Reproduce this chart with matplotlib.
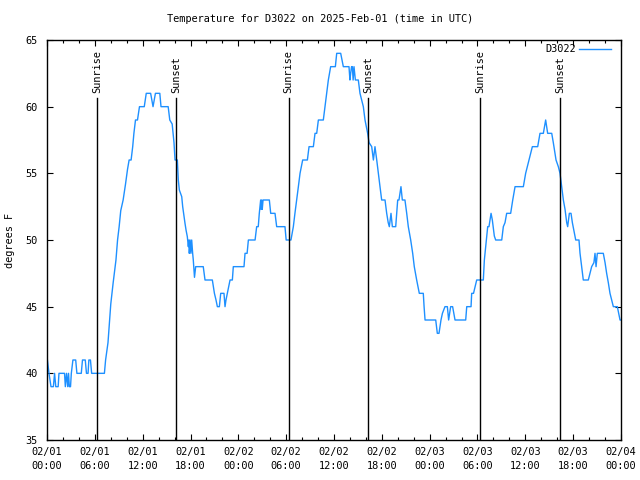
import matplotlib
matplotlib.use("Agg")
import matplotlib.pyplot as plt
from matplotlib.ticker import MultipleLocator

# hours since 02/01 00:00 UTC and temperature (deg F)
hours = [
    0.05, 0.25, 0.5, 0.8, 0.95, 1.1, 1.4, 1.5, 2.2, 2.3, 2.45, 2.6, 2.7, 2.8, 2.95,
    3.05, 3.25, 3.6, 3.75, 4.3, 4.45, 4.8, 4.95, 5.15, 5.25, 5.45, 5.6, 7.2,
    7.35, 7.65, 8.0, 8.3, 8.65, 8.85, 9.05, 9.25, 9.55, 9.85, 10.1, 10.3, 10.55,
    10.75, 10.9, 11.1, 11.35, 11.6, 12.2, 12.45, 13.0, 13.3, 13.6, 14.15, 14.3, 15.2,
    15.4, 15.7, 15.93, 16.06, 16.35, 16.47, 16.6, 16.9, 17.02, 17.19, 17.31, 17.44,
    17.6, 17.73, 17.8, 17.85, 17.95, 18.05, 18.15, 18.27, 18.35, 18.5, 18.56, 18.65,
    19.6, 19.82, 20.74, 20.87, 21.0, 21.2, 21.37, 21.62, 21.79, 22.2, 22.33, 22.45,
    22.62, 22.8, 22.96, 23.25, 23.37, 24.71, 24.84, 25.1, 25.26, 26.1, 26.3, 26.5,
    26.63, 26.8, 26.87, 26.93, 27.0, 27.1, 27.89, 28.06, 28.6, 28.81, 29.85, 30.0,
    30.6, 30.9, 31.1, 31.32, 31.53, 31.74, 32.07, 32.66, 32.87, 33.41, 33.62, 33.83,
    34.04, 34.66, 34.87, 35.08, 35.29, 35.58, 36.17, 36.34, 36.84, 37.17, 37.88, 38.0,
    38.09, 38.2, 38.3, 38.4, 38.51, 38.68, 39.05, 39.26, 39.68, 39.89, 40.22, 40.4,
    40.73, 40.94, 41.14, 41.36, 41.56, 41.77, 41.98, 42.4, 42.61, 42.8, 42.94, 43.15,
    43.32, 43.74, 43.86, 43.99, 44.15, 44.4, 44.57, 44.9, 45.12, 45.32, 45.62, 45.87,
    46.07, 46.37, 46.7, 47.2, 47.3, 47.42, 48.76, 48.96, 49.17, 49.42, 49.6, 49.92,
    50.22, 50.38, 50.63, 50.88, 51.18, 52.52, 52.65, 53.19, 53.27, 53.5, 53.9, 54.73,
    54.86, 55.03, 55.28, 55.44, 55.7, 55.86, 56.11, 56.28, 57.04, 57.24, 57.45, 57.66,
    58.16, 58.42, 58.71, 59.75, 60.04, 60.46, 60.88, 61.55, 61.84, 62.26, 62.55, 62.8,
    63.31, 63.51, 63.85, 64.14, 64.35, 64.56, 64.77, 64.98, 65.19, 65.31, 65.52, 65.73,
    65.9, 66.15, 66.32, 66.73, 66.86, 67.07, 67.27, 67.9, 68.11, 68.32, 68.6, 68.74,
    68.87, 69.03, 69.78, 70.0, 70.2, 70.41, 70.62, 71.04, 71.54, 71.88, 72.0,
]
temps = [
    41, 40, 39, 39, 40, 39, 39, 40, 40, 39, 40, 39, 40, 39, 39,
    40, 41, 41, 40, 40, 41, 41, 40, 40, 41, 41, 40, 40,
    41, 42.3, 45.2, 46.8, 48.5, 50, 51, 52.2, 53, 54.2, 55.3, 56, 56,
    57, 58, 59, 59, 60, 60, 61, 61, 60, 61, 61, 60, 60,
    59, 58.7, 57.3, 56, 56, 54.5, 53.75, 53.25, 52.5, 51.75, 51.25, 50.75,
    50.25, 49.5, 50, 49, 50, 49, 50, 49, 48.5, 47.2, 47.5, 48,
    48, 47, 47, 46.5, 46, 45.5, 45, 45, 46, 46, 45, 45.5,
    46, 46.5, 47, 47, 48, 48, 49, 49, 50, 50, 51, 51,
    52, 53, 52.3, 53, 52.3, 53, 53, 52, 52, 51, 51, 50,
    50, 51, 52, 53, 54, 55, 56, 56, 57, 57, 58, 58,
    59, 59, 60, 61, 62, 63, 63, 64, 64, 63, 63, 62,
    62.5, 63, 63, 62, 63, 62, 62, 61, 60, 59, 58, 57.3,
    57, 56, 57, 56, 55, 54, 53, 53, 52, 51.3, 51, 52,
    51, 51, 52, 53, 53, 54, 53, 53, 52, 51, 50, 49,
    48, 47, 46, 46, 45, 44, 44, 43, 43, 44, 44.5, 45,
    45, 44, 45, 45, 44, 44, 45, 45, 46, 46, 47, 47,
    48.5, 49.5, 51, 51, 52, 51.5, 50.3, 50, 50, 51, 51.3, 52,
    52, 53, 54, 54, 55, 56, 57, 57, 58, 58, 59, 58,
    58, 57.3, 56, 55.5, 55, 54, 53, 52.3, 51.3, 51, 52, 52,
    51.3, 50.5, 50, 50, 49, 48, 47, 47, 47.5, 48, 48.3, 49,
    48, 49, 49, 48.3, 47.5, 46.8, 46, 45, 45, 44, 44,
]

sunrise = [6.3, 30.3, 54.3]
sunset = [16.2, 40.3, 64.35]

tick_hours = list(range(0, 73, 6))
tick_labels = [
    "02/01\n00:00", "02/01\n06:00", "02/01\n12:00", "02/01\n18:00",
    "02/02\n00:00", "02/02\n06:00", "02/02\n12:00", "02/02\n18:00",
    "02/03\n00:00", "02/03\n06:00", "02/03\n12:00", "02/03\n18:00",
    "02/04\n00:00",
]

plt.rcParams['font.family'] = ['DejaVu Sans Mono', 'DejaVu Sans']
fs = 7.4

fig = plt.figure(figsize=(6.4, 4.8), dpi=100)
ax = fig.add_axes([47 / 640, 40 / 480, 574 / 640, 400 / 480])

ax.plot(hours, temps, color='#1e90ff', lw=1.0, label='D3022')

# sunrise / sunset markers
for h in sunrise:
    ax.axvline(h, ymin=0, ymax=0.854, color='black', lw=1.0)
    ax.text(h, 0.868, 'Sunrise', rotation=90, ha='center', va='bottom',
            fontsize=fs, transform=ax.get_xaxis_transform())
for h in sunset:
    ax.axvline(h, ymin=0, ymax=0.854, color='black', lw=1.0)
    ax.text(h, 0.868, 'Sunset', rotation=90, ha='center', va='bottom',
            fontsize=fs, transform=ax.get_xaxis_transform())

ax.set_xlim(0, 72)
ax.set_ylim(35, 65)
ax.set_xticks(tick_hours)
ax.set_xticklabels(tick_labels, fontsize=fs, linespacing=1.5)
ax.xaxis.set_minor_locator(MultipleLocator(2))
ax.set_yticks(range(35, 66, 5))
ax.tick_params(axis='y', labelsize=fs)
ax.tick_params(which='major', direction='in', length=4.5, width=0.8,
               top=True, right=True, pad=7)
ax.tick_params(which='minor', direction='in', length=2.2, width=0.8,
               top=True, right=True)
ax.tick_params(axis='x', which='major', pad=5)
for sp in ax.spines.values():
    sp.set_linewidth(1.0)

ax.legend(loc='upper right', bbox_to_anchor=(0.99, 1.0), frameon=False,
          markerfirst=False, fontsize=fs, handlelength=3.1,
          handletextpad=0.35, borderaxespad=0.0, borderpad=0.4)

fig.text(0.5, 1 - 19 / 480, 'Temperature for D3022 on 2025-Feb-01 (time in UTC)',
         ha='center', va='center', fontsize=fs)
fig.text(10 / 640, 0.5, 'degrees F', rotation=90, ha='center', va='center',
         fontsize=fs)

fig.savefig('out.png', dpi=100)
